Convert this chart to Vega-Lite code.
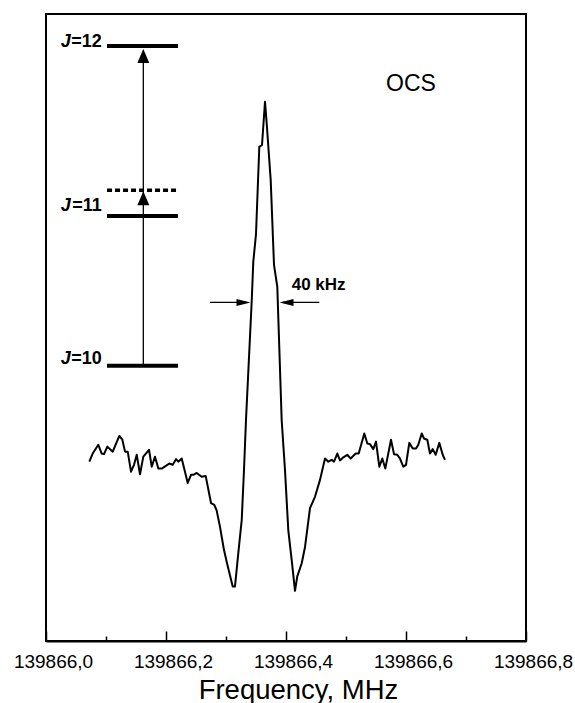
{
  "$schema": "https://vega.github.io/schema/vega-lite/v6.json",
  "width": 480,
  "height": 627,
  "autosize": {"type": "none"},
  "padding": {"left": 46, "top": 14, "right": 49, "bottom": 62},
  "background": "white",
  "config": {
    "view": {"stroke": "black", "strokeWidth": 2},
    "font": "Liberation Sans"
  },
  "datasets": {
    "spectrum": [
      {"f": 139866.0722, "v": 28.6}, {"f": 139866.0778, "v": 29.9}, {"f": 139866.0872, "v": 31.3}, {"f": 139866.0928, "v": 29.9},
      {"f": 139866.0967, "v": 29.8}, {"f": 139866.1022, "v": 31.0}, {"f": 139866.1112, "v": 30.2}, {"f": 139866.1222, "v": 32.7},
      {"f": 139866.1272, "v": 32.1}, {"f": 139866.1317, "v": 30.2}, {"f": 139866.1362, "v": 30.2}, {"f": 139866.1417, "v": 27.0},
      {"f": 139866.1467, "v": 28.1}, {"f": 139866.1512, "v": 29.7}, {"f": 139866.1567, "v": 26.6}, {"f": 139866.1622, "v": 29.4},
      {"f": 139866.1717, "v": 30.5}, {"f": 139866.1762, "v": 27.8}, {"f": 139866.1817, "v": 29.4}, {"f": 139866.1872, "v": 27.5},
      {"f": 139866.1928, "v": 27.5}, {"f": 139866.2055, "v": 28.3}, {"f": 139866.2112, "v": 28.1}, {"f": 139866.2167, "v": 29.0},
      {"f": 139866.2205, "v": 28.6}, {"f": 139866.2262, "v": 29.1}, {"f": 139866.2362, "v": 25.2}, {"f": 139866.2417, "v": 26.5},
      {"f": 139866.2455, "v": 26.5}, {"f": 139866.2512, "v": 26.8}, {"f": 139866.2595, "v": 26.2}, {"f": 139866.2662, "v": 26.3},
      {"f": 139866.275, "v": 22.0}, {"f": 139866.2805, "v": 21.7}, {"f": 139866.2845, "v": 20.8}, {"f": 139866.29, "v": 18.2},
      {"f": 139866.2967, "v": 14.5}, {"f": 139866.3012, "v": 12.6}, {"f": 139866.3112, "v": 8.7}, {"f": 139866.315, "v": 8.7},
      {"f": 139866.3205, "v": 14.0}, {"f": 139866.3262, "v": 19.3}, {"f": 139866.33, "v": 27.3}, {"f": 139866.3333, "v": 35.2},
      {"f": 139866.3428, "v": 54.1}, {"f": 139866.3455, "v": 60.5}, {"f": 139866.35, "v": 64.9}, {"f": 139866.3555, "v": 78.8},
      {"f": 139866.36, "v": 79.1}, {"f": 139866.365, "v": 86.0}, {"f": 139866.3678, "v": 82.6}, {"f": 139866.3745, "v": 73.5},
      {"f": 139866.38, "v": 60.0}, {"f": 139866.3855, "v": 56.5}, {"f": 139866.3888, "v": 46.9}, {"f": 139866.3928, "v": 35.2},
      {"f": 139866.3983, "v": 27.3}, {"f": 139866.4038, "v": 17.7}, {"f": 139866.4095, "v": 12.9}, {"f": 139866.415, "v": 8.0},
      {"f": 139866.4188, "v": 10.3}, {"f": 139866.4262, "v": 12.4}, {"f": 139866.4317, "v": 15.0}, {"f": 139866.44, "v": 21.2},
      {"f": 139866.4483, "v": 23.0}, {"f": 139866.4567, "v": 25.7}, {"f": 139866.465, "v": 29.1}, {"f": 139866.4705, "v": 28.6},
      {"f": 139866.4762, "v": 28.9}, {"f": 139866.48, "v": 28.6}, {"f": 139866.4855, "v": 29.9}, {"f": 139866.49, "v": 28.8},
      {"f": 139866.4955, "v": 29.3}, {"f": 139866.5022, "v": 29.7}, {"f": 139866.5078, "v": 29.1}, {"f": 139866.5162, "v": 29.9},
      {"f": 139866.5212, "v": 29.9}, {"f": 139866.5305, "v": 33.1}, {"f": 139866.5355, "v": 31.5}, {"f": 139866.54, "v": 31.4},
      {"f": 139866.5455, "v": 30.6}, {"f": 139866.55, "v": 31.8}, {"f": 139866.5555, "v": 27.8}, {"f": 139866.5605, "v": 29.1},
      {"f": 139866.5655, "v": 27.5}, {"f": 139866.575, "v": 32.1}, {"f": 139866.58, "v": 29.8}, {"f": 139866.5855, "v": 29.7},
      {"f": 139866.59, "v": 29.1}, {"f": 139866.5955, "v": 27.8}, {"f": 139866.6, "v": 28.1}, {"f": 139866.6055, "v": 31.6},
      {"f": 139866.6112, "v": 30.7}, {"f": 139866.6167, "v": 30.7}, {"f": 139866.6205, "v": 31.3}, {"f": 139866.6262, "v": 33.1},
      {"f": 139866.63, "v": 32.3}, {"f": 139866.6355, "v": 32.1}, {"f": 139866.64, "v": 29.9}, {"f": 139866.6445, "v": 30.6},
      {"f": 139866.6495, "v": 29.7}, {"f": 139866.6555, "v": 31.6}, {"f": 139866.6612, "v": 29.7}, {"f": 139866.665, "v": 28.9}
    ],
    "levels": [
      {"level": "J=12", "f": 139866.1017, "f2": 139866.22, "v": 94.9, "dashed": false},
      {"level": "virtual", "f": 139866.1017, "f2": 139866.22, "v": 71.9, "dashed": true},
      {"level": "J=11", "f": 139866.1017, "f2": 139866.22, "v": 67.8, "dashed": false},
      {"level": "J=10", "f": 139866.1017, "f2": 139866.22, "v": 43.9, "dashed": false}
    ],
    "arrowLines": [
      {"f": 139866.1622, "v": 43.9, "f2": 139866.1622, "v2": 94.0},
      {"f": 139866.2733, "v": 54.0, "f2": 139866.335, "v2": 54.0},
      {"f": 139866.395, "v": 54.0, "f2": 139866.4555, "v2": 54.0}
    ],
    "heads": [
      {"f": 139866.1622, "v": 93.3, "dir": "up"},
      {"f": 139866.1622, "v": 70.6, "dir": "up"},
      {"f": 139866.3292, "v": 54.0, "dir": "right"},
      {"f": 139866.4008, "v": 54.0, "dir": "left"}
    ],
    "levelLabels": [
      {"f": 139866.093, "v": 95.6, "sym": "J", "num": "=12"},
      {"f": 139866.093, "v": 69.3, "sym": "J", "num": "=11"},
      {"f": 139866.093, "v": 44.9, "sym": "J", "num": "=10"}
    ],
    "notes": [
      {"f": 139866.4095, "v": 56.8, "text": "40 kHz", "kind": "width"},
      {"f": 139866.5667, "v": 88.9, "text": "OCS", "kind": "molecule"}
    ]
  },
  "encoding": {
    "x": {
      "field": "f",
      "type": "quantitative",
      "scale": {"domain": [139866.0, 139866.8], "nice": false, "zero": false},
      "axis": {
        "title": "Frequency, MHz",
        "values": [139866.0, 139866.1, 139866.2, 139866.3, 139866.4, 139866.5, 139866.6, 139866.7, 139866.8],
        "labelExpr": "round(datum.value*10) % 2 == 0 ? replace(format(datum.value, '.1f'), '.', ',') : ''",
        "tickSize": {"condition": {"test": "round(datum.value*10) % 2 == 0", "value": -10}, "value": -5},
        "tickColor": "black",
        "tickWidth": 1.5,
        "domainColor": "black",
        "domainWidth": 2,
        "grid": false,
        "labelFont": "Liberation Sans",
        "labelFontSize": 19,
        "labelColor": "black",
        "labelPadding": 21,
        "labelOffset": 7,
        "labelFlush": false,
        "labelOverlap": false,
        "titleFont": "Liberation Sans",
        "titleFontSize": 27.5,
        "titleFontWeight": "normal",
        "titleColor": "black",
        "titleBaseline": "alphabetic",
        "titleX": 252,
        "titleY": 57
      }
    },
    "y": {
      "field": "v",
      "type": "quantitative",
      "scale": {"domain": [0, 100], "nice": false, "zero": false},
      "axis": null
    }
  },
  "layer": [
    {
      "data": {"name": "spectrum"},
      "mark": {"type": "line", "color": "black", "strokeWidth": 2, "strokeJoin": "round"}
    },
    {
      "data": {"name": "levels"},
      "transform": [{"filter": "!datum.dashed"}],
      "mark": {"type": "rule", "color": "black", "strokeWidth": 4},
      "encoding": {"x2": {"field": "f2"}}
    },
    {
      "data": {"name": "levels"},
      "transform": [{"filter": "datum.dashed"}],
      "mark": {"type": "rule", "color": "black", "strokeWidth": 3.5, "strokeDash": [5, 3]},
      "encoding": {"x2": {"field": "f2"}}
    },
    {
      "data": {"name": "arrowLines"},
      "mark": {"type": "rule", "color": "black", "strokeWidth": 1.3},
      "encoding": {"x2": {"field": "f2"}, "y2": {"field": "v2"}}
    },
    {
      "data": {"name": "heads"},
      "mark": {"type": "point", "filled": true, "color": "black", "size": 196, "opacity": 1, "strokeWidth": 0},
      "encoding": {
        "shape": {
          "field": "dir",
          "type": "nominal",
          "scale": {
            "domain": ["up", "right", "left"],
            "range": ["M0,-1L0.85,1L-0.85,1Z", "M1,0L-1,0.5L-1,-0.5Z", "M-1,0L1,0.5L1,-0.5Z"]
          },
          "legend": null
        }
      }
    },
    {
      "data": {"name": "levelLabels"},
      "mark": {"type": "text", "align": "right", "baseline": "middle", "fontSize": 18, "fontWeight": "bold", "font": "Liberation Sans", "color": "black"},
      "encoding": {"text": {"field": "num"}}
    },
    {
      "data": {"name": "levelLabels"},
      "mark": {"type": "text", "align": "right", "baseline": "middle", "dx": -31, "fontSize": 18, "fontWeight": "bold", "fontStyle": "italic", "font": "Liberation Sans", "color": "black"},
      "encoding": {"text": {"field": "sym"}}
    },
    {
      "data": {"name": "notes"},
      "transform": [{"filter": "datum.kind == 'width'"}],
      "mark": {"type": "text", "align": "left", "baseline": "middle", "fontSize": 17, "fontWeight": "bold", "font": "Liberation Sans", "color": "black"},
      "encoding": {"text": {"field": "text"}}
    },
    {
      "data": {"name": "notes"},
      "transform": [{"filter": "datum.kind == 'molecule'"}],
      "mark": {"type": "text", "align": "left", "baseline": "middle", "fontSize": 23, "font": "Liberation Sans", "color": "black"},
      "encoding": {"text": {"field": "text"}}
    }
  ]
}
